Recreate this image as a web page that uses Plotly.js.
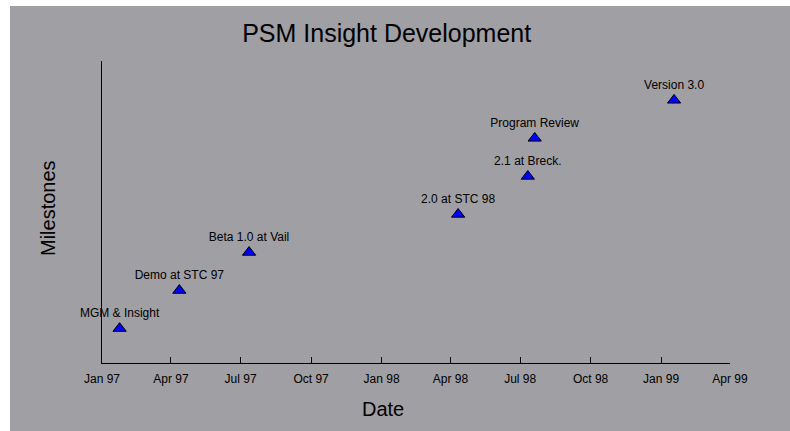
<!DOCTYPE html>
<html>
<head>
<meta charset="utf-8">
<script src="https://cdn.plot.ly/plotly-3.0.1.min.js"></script>
<style>
  html, body { margin: 0; padding: 0; background: #ffffff; }
  #chart { width: 790px; height: 431px; }
</style>
</head>
<body>
<div id="chart"></div>
<script>
// ---- data ----
var milestoneDates = ["1997-01-24", "1997-04-12", "1997-07-12", "1998-04-11", "1998-07-11", "1998-07-20", "1999-01-18"];
var milestoneLevels = [1, 2, 3, 4, 5, 6, 7];
var milestoneNames = ["MGM & Insight", "Demo at STC 97", "Beta 1.0 at Vail", "2.0 at STC 98", "2.1 at Breck.", "Program Review", "Version 3.0"];
var tickDates = ["1997-01-01", "1997-04-01", "1997-07-01", "1997-10-01", "1998-01-01", "1998-04-01", "1998-07-01", "1998-10-01", "1999-01-01", "1999-04-01"];
var tickLabels = ["Jan 97", "Apr 97", "Jul 97", "Oct 97", "Jan 98", "Apr 98", "Jul 98", "Oct 98", "Jan 99", "Apr 99"];
var chartTitle = "PSM Insight Development";
var xTitle = "Date";
var yTitle = "Milestones";

var FONT = "Liberation Sans, Arial, sans-serif";
var BG = "rgb(160,159,164)";

// plot area in pixels: left 102, right 730, top 61, bottom 363
var W = 790, H = 431, L = 102, R = 730, T = 61, B = 363;
function px2paperX(px) { return (px - L) / (R - L); }
function px2paperY(py) { return (B - py) / (B - T); }

var xRange = [tickDates[0], tickDates[tickDates.length - 1]];

var trace = {
  type: "scatter",
  mode: "markers+text",
  x: milestoneDates,
  y: milestoneLevels,
  text: milestoneNames,
  textposition: "top center",
  textfont: { family: FONT, size: 12, color: "#000000" },
  marker: { symbol: "triangle-up", size: 11.5, color: "#0000ff", line: { color: "#000000", width: 1 } },
  hoverinfo: "x+text",
  cliponaxis: false,
  showlegend: false
};

var layout = {
  width: W, height: H,
  margin: { l: L, r: W - R, t: T, b: H - B, pad: 0 },
  paper_bgcolor: "#ffffff",
  plot_bgcolor: "rgba(0,0,0,0)",
  font: { family: FONT, size: 12, color: "#000000" },
  showlegend: false,
  title: {
    text: chartTitle,
    font: { family: FONT, size: 25, color: "#000000" },
    xref: "container", x: 386.7 / W, xanchor: "center",
    yref: "container", y: 1 - 33.7 / H, yanchor: "middle"
  },
  xaxis: {
    type: "date",
    range: xRange,
    tickvals: tickDates,
    ticktext: tickLabels,
    ticks: "inside", ticklen: 6, tickwidth: 1, tickcolor: "#000000",
    ticklabelstandoff: 5,
    showline: true, linecolor: "#000000", linewidth: 1,
    showgrid: false, zeroline: false,
    tickfont: { family: FONT, size: 12, color: "#000000" },
    fixedrange: true
  },
  xaxis2: {
    type: "date",
    range: xRange,
    overlaying: "x",
    anchor: "y",
    side: "bottom",
    tickvals: tickDates.slice(1),
    ticktext: tickLabels.slice(1),
    showticklabels: false,
    ticks: "outside", ticklen: 6, tickwidth: 1, tickcolor: "#000000",
    showline: false, showgrid: false, zeroline: false,
    fixedrange: true
  },
  yaxis: {
    range: [0.09, 8.03],
    showline: true, linecolor: "#000000", linewidth: 1,
    showticklabels: false, ticks: "",
    showgrid: false, zeroline: false,
    fixedrange: true
  },
  shapes: [{
    type: "rect", layer: "below",
    xref: "paper", yref: "paper",
    x0: px2paperX(10), x1: px2paperX(W + 20),
    y0: px2paperY(H + 20), y1: px2paperY(6),
    fillcolor: BG, line: { width: 0 }
  }],
  annotations: [
    {
      text: xTitle, showarrow: false,
      xref: "paper", yref: "paper",
      x: px2paperX(383), y: px2paperY(409),
      xanchor: "center", yanchor: "middle",
      font: { family: FONT, size: 20, color: "#000000" }
    },
    {
      text: yTitle, showarrow: false, textangle: -90,
      xref: "paper", yref: "paper",
      x: px2paperX(48), y: px2paperY(208),
      xanchor: "center", yanchor: "middle",
      font: { family: FONT, size: 20, color: "#000000" }
    }
  ]
};

Plotly.newPlot("chart", [trace], layout, { displayModeBar: false, staticPlot: true });
</script>
</body>
</html>
